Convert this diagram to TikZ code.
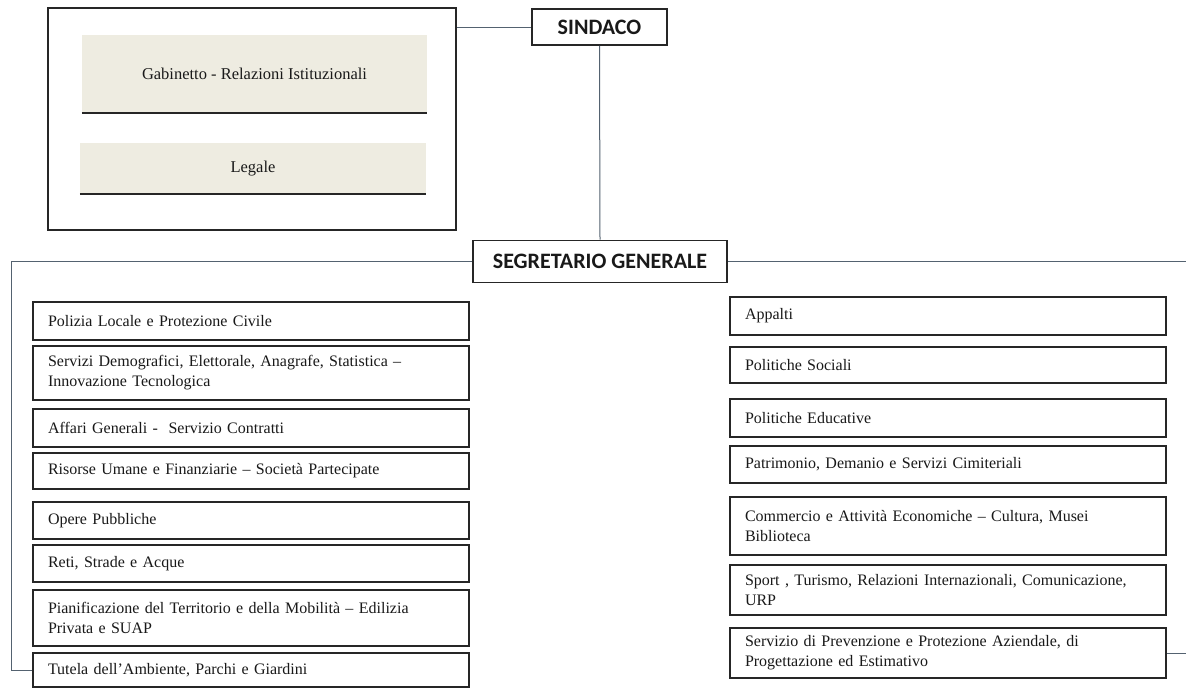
\documentclass[tikz,border=0pt]{standalone}
\usepackage{fontspec}
\setmainfont{Liberation Serif}
\newfontfamily\headfont{Carlito}
\usetikzlibrary{positioning}
\definecolor{orgline}{RGB}{38,38,38}
\definecolor{orgwire}{RGB}{84,98,112}
\definecolor{orgtan}{RGB}{238,236,225}
\tikzstyle{head} = [rectangle, draw=orgline, line width=1.6pt, fill=white, text=black!90, font=\headfont\bfseries\fontsize{22}{24}\selectfont]
\tikzstyle{office} = [rectangle, fill=orgtan, text=black!90, font=\fontsize{16.5}{20}\selectfont]
\tikzstyle{unit} = [rectangle, draw=orgline, line width=1.6pt, text width=406pt, inner xsep=15pt, inner ysep=0pt, align=left, text=black!90, font=\fontsize{16}{20}\selectfont]
\tikzstyle{wire} = [orgwire, line width=1pt]

\begin{document}
\begin{tikzpicture}[x=1pt, y=-1pt]
\useasboundingbox (0,0) rectangle (1186,688);
\fill[white] (0,0) rectangle (1186,688);
\clip (0,0) rectangle (1186,688);

% Vertici
\node (sindaco) [head, minimum width=135pt, minimum height=36pt] at (599.5,27) {SINDACO};
\node (segretario) [head, minimum width=254pt, minimum height=42pt] at (600,261.5) {SEGRETARIO GENERALE};

% Staff del sindaco
\node (staff) [rectangle, draw=orgline, line width=1.4pt, minimum width=408pt, minimum height=222pt] at (252,119) {};
\node (gabinetto) [office, minimum width=345pt, minimum height=78pt] at (254.5,74) {Gabinetto - Relazioni Istituzionali};
\node (legale) [office, minimum width=346pt, minimum height=51pt] at (253,168.5) {Legale};
\draw[orgline, line width=1.8pt] (gabinetto.south west) -- (gabinetto.south east);
\draw[orgline, line width=1.8pt] (legale.south west) -- (legale.south east);

% Settori a sinistra
\node (polizia) [unit, minimum height=38pt] at (251,321) {Polizia Locale e Protezione Civile};
\node (demografici) [unit, minimum height=54pt] at (251,373) {Servizi Demografici, Elettorale, Anagrafe, Statistica --\\Innovazione Tecnologica};
\node (affari) [unit, minimum height=38pt] at (251,428) {Affari Generali - \ Servizio Contratti};
\node (risorse) [unit, minimum height=36pt] at (251,471) {Risorse Umane e Finanziarie -- Società Partecipate};
\node (opere) [unit, minimum height=37pt] at (251,520.5) {Opere Pubbliche};
\node (reti) [unit, minimum height=37pt] at (251,563.5) {Reti, Strade e Acque};
\node (pianificazione) [unit, minimum height=56pt] at (251,618) {Pianificazione del Territorio e della Mobilità -- Edilizia\\Privata e SUAP};
\node (tutela) [unit, minimum height=34pt] at (251,670) {Tutela dell'Ambiente, Parchi e Giardini};

% Settori a destra
\node (appalti) [unit, minimum height=38pt] at (948,316) {Appalti};
\node (sociali) [unit, minimum height=36pt] at (948,365) {Politiche Sociali};
\node (educative) [unit, minimum height=38pt] at (948,418) {Politiche Educative};
\node (patrimonio) [unit, minimum height=37pt] at (948,464.5) {Patrimonio, Demanio e Servizi Cimiteriali};
\node (commercio) [unit, minimum height=58pt] at (948,526) {Commercio e Attività Economiche -- Cultura, Musei\\Biblioteca};
\node (sport) [unit, minimum height=50pt] at (948,590) {Sport , Turismo, Relazioni Internazionali, Comunicazione,\\URP};
\node (servizio) [unit, minimum height=50pt] at (948,653) {Servizio di Prevenzione e Protezione Aziendale, di\\Progettazione ed Estimativo};

% Collegamenti
\coordinate (lbus) at (11,0);
\coordinate (rbus) at (1200,0);
\draw[wire] (sindaco.west) -- (sindaco.west -| staff.east);
\draw[wire] (sindaco.south) -- (segretario.north);
\draw[wire] (segretario.west) -- (segretario.west -| lbus) |- (tutela.west);
\draw[wire] (segretario.east) -- (segretario.east -| rbus) |- (servizio.east);
\end{tikzpicture}
\end{document}
